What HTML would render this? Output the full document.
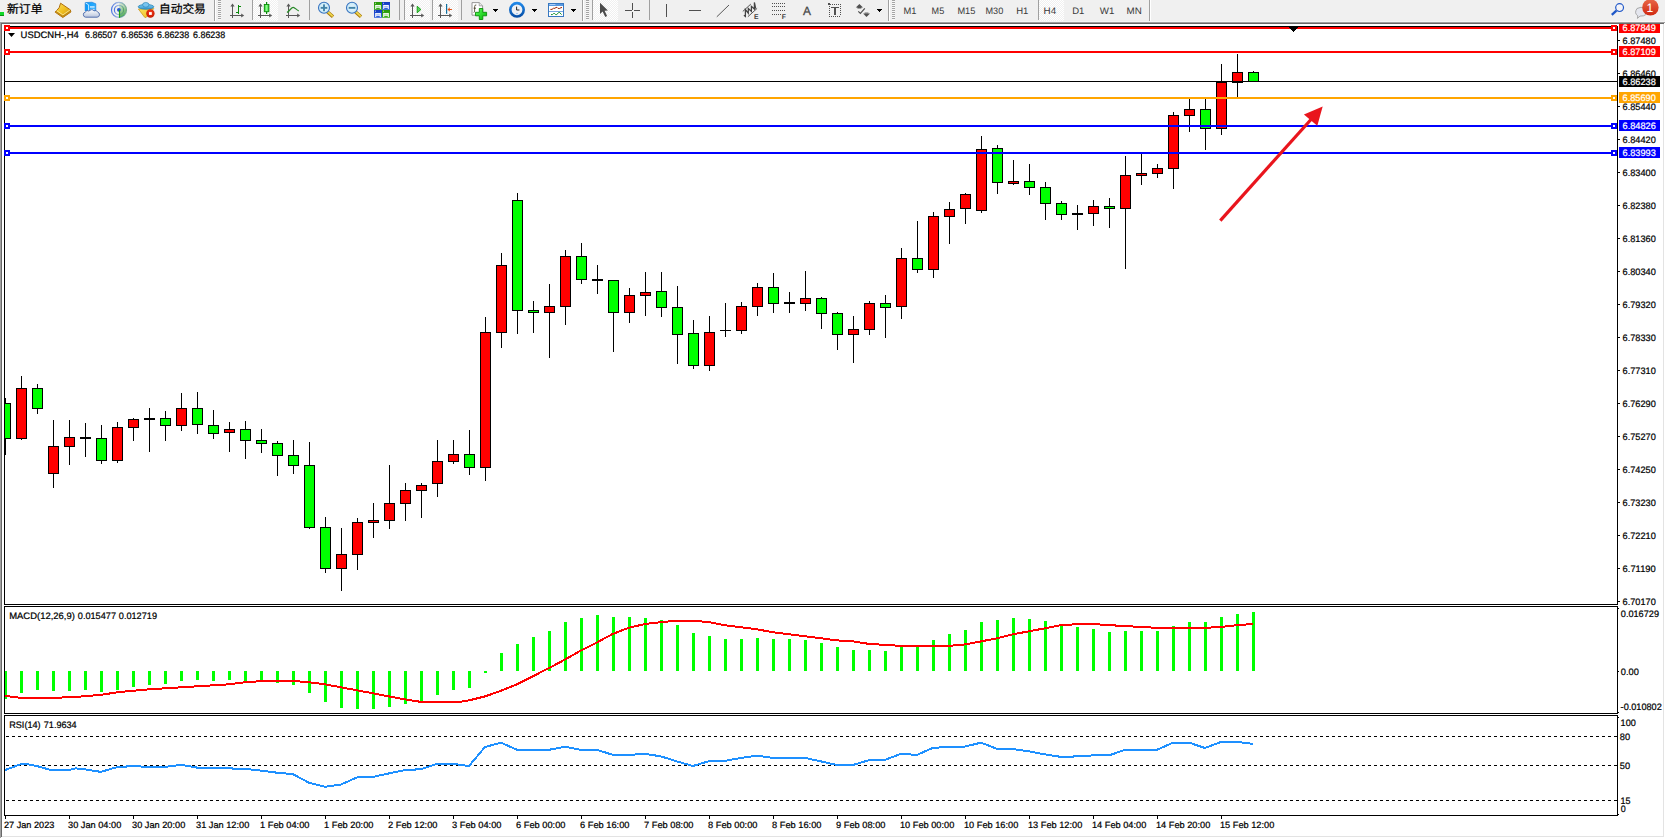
<!DOCTYPE html><html><head><meta charset="utf-8"><title>USDCNH H4</title>
<style>html,body{margin:0;padding:0;background:#f0f0f0;}body{width:1665px;height:838px;overflow:hidden;position:relative;font-family:"Liberation Sans","Noto Sans CJK SC",sans-serif;}svg{position:absolute;left:0;top:0;display:block}text{font-family:"Liberation Sans","Noto Sans CJK SC",sans-serif;text-rendering:geometricPrecision}</style></head><body>
<svg width="1665" height="838" viewBox="0 0 1665 838">
<g shape-rendering="crispEdges">
<rect x="0" y="0" width="1665" height="838" fill="#f0f0f0"/>
<rect x="0" y="21" width="1665" height="1" fill="#f7f7f7"/>
<rect x="0" y="22" width="1665" height="816" fill="#a0a0a0"/>
<rect x="1" y="23" width="1664" height="815" fill="#696969"/>
<rect x="2" y="24" width="1663" height="814" fill="#fff"/>
<rect x="1" y="837" width="1664" height="1" fill="#fff"/>
<rect x="1664" y="23" width="1" height="815" fill="#fff"/>
<rect x="2" y="836" width="1662" height="1" fill="#e3e3e3"/>
<rect x="1663" y="24" width="1" height="813" fill="#e3e3e3"/>
<rect x="4" y="26" width="1613" height="1" fill="#000"/>
<rect x="4" y="26" width="1" height="790" fill="#000"/>
<rect x="1617" y="26" width="1" height="790" fill="#000"/>
<rect x="4" y="604" width="1614" height="1" fill="#000"/>
<rect x="4" y="606" width="1614" height="1" fill="#000"/>
<rect x="4" y="713" width="1614" height="1" fill="#000"/>
<rect x="4" y="715" width="1614" height="1" fill="#000"/>
<rect x="4" y="815" width="1614" height="1" fill="#000"/>
<rect x="4" y="605" width="1614" height="1" fill="#fff"/>
<rect x="4" y="714" width="1614" height="1" fill="#fff"/>
</g>
<g shape-rendering="crispEdges">
<g id="candles">
<rect x="5" y="398" width="1" height="57" fill="#000"/>
<rect x="5" y="403" width="6" height="36" fill="#000"/>
<rect x="5" y="404" width="5" height="34" fill="#00ff00"/>
<rect x="21" y="376" width="1" height="64" fill="#000"/>
<rect x="16" y="388" width="11" height="51" fill="#000"/>
<rect x="17" y="389" width="9" height="49" fill="#ff0000"/>
<rect x="37" y="384" width="1" height="30" fill="#000"/>
<rect x="32" y="388" width="11" height="21" fill="#000"/>
<rect x="33" y="389" width="9" height="19" fill="#00ff00"/>
<rect x="53" y="420" width="1" height="68" fill="#000"/>
<rect x="48" y="446" width="11" height="28" fill="#000"/>
<rect x="49" y="447" width="9" height="26" fill="#ff0000"/>
<rect x="69" y="420" width="1" height="45" fill="#000"/>
<rect x="64" y="437" width="11" height="10" fill="#000"/>
<rect x="65" y="438" width="9" height="8" fill="#ff0000"/>
<rect x="85" y="423" width="1" height="34" fill="#000"/>
<rect x="80" y="437" width="11" height="2" fill="#000"/>
<rect x="101" y="425" width="1" height="39" fill="#000"/>
<rect x="96" y="438" width="11" height="23" fill="#000"/>
<rect x="97" y="439" width="9" height="21" fill="#00ff00"/>
<rect x="117" y="422" width="1" height="41" fill="#000"/>
<rect x="112" y="427" width="11" height="34" fill="#000"/>
<rect x="113" y="428" width="9" height="32" fill="#ff0000"/>
<rect x="133" y="418" width="1" height="23" fill="#000"/>
<rect x="128" y="419" width="11" height="9" fill="#000"/>
<rect x="129" y="420" width="9" height="7" fill="#ff0000"/>
<rect x="149" y="408" width="1" height="44" fill="#000"/>
<rect x="144" y="418" width="11" height="2" fill="#000"/>
<rect x="165" y="411" width="1" height="30" fill="#000"/>
<rect x="160" y="418" width="11" height="8" fill="#000"/>
<rect x="161" y="419" width="9" height="6" fill="#00ff00"/>
<rect x="181" y="393" width="1" height="38" fill="#000"/>
<rect x="176" y="408" width="11" height="18" fill="#000"/>
<rect x="177" y="409" width="9" height="16" fill="#ff0000"/>
<rect x="197" y="392" width="1" height="42" fill="#000"/>
<rect x="192" y="408" width="11" height="17" fill="#000"/>
<rect x="193" y="409" width="9" height="15" fill="#00ff00"/>
<rect x="213" y="410" width="1" height="29" fill="#000"/>
<rect x="208" y="425" width="11" height="9" fill="#000"/>
<rect x="209" y="426" width="9" height="7" fill="#00ff00"/>
<rect x="229" y="422" width="1" height="30" fill="#000"/>
<rect x="224" y="429" width="11" height="4" fill="#000"/>
<rect x="225" y="430" width="9" height="2" fill="#ff0000"/>
<rect x="245" y="421" width="1" height="38" fill="#000"/>
<rect x="240" y="429" width="11" height="12" fill="#000"/>
<rect x="241" y="430" width="9" height="10" fill="#00ff00"/>
<rect x="261" y="429" width="1" height="24" fill="#000"/>
<rect x="256" y="440" width="11" height="4" fill="#000"/>
<rect x="257" y="441" width="9" height="2" fill="#00ff00"/>
<rect x="277" y="441" width="1" height="35" fill="#000"/>
<rect x="272" y="443" width="11" height="13" fill="#000"/>
<rect x="273" y="444" width="9" height="11" fill="#00ff00"/>
<rect x="293" y="440" width="1" height="34" fill="#000"/>
<rect x="288" y="455" width="11" height="11" fill="#000"/>
<rect x="289" y="456" width="9" height="9" fill="#00ff00"/>
<rect x="309" y="442" width="1" height="87" fill="#000"/>
<rect x="304" y="465" width="11" height="63" fill="#000"/>
<rect x="305" y="466" width="9" height="61" fill="#00ff00"/>
<rect x="325" y="517" width="1" height="56" fill="#000"/>
<rect x="320" y="527" width="11" height="42" fill="#000"/>
<rect x="321" y="528" width="9" height="40" fill="#00ff00"/>
<rect x="341" y="528" width="1" height="63" fill="#000"/>
<rect x="336" y="554" width="11" height="15" fill="#000"/>
<rect x="337" y="555" width="9" height="13" fill="#ff0000"/>
<rect x="357" y="518" width="1" height="52" fill="#000"/>
<rect x="352" y="522" width="11" height="33" fill="#000"/>
<rect x="353" y="523" width="9" height="31" fill="#ff0000"/>
<rect x="373" y="503" width="1" height="35" fill="#000"/>
<rect x="368" y="520" width="11" height="3" fill="#000"/>
<rect x="369" y="521" width="9" height="1" fill="#ff0000"/>
<rect x="389" y="465" width="1" height="64" fill="#000"/>
<rect x="384" y="503" width="11" height="18" fill="#000"/>
<rect x="385" y="504" width="9" height="16" fill="#ff0000"/>
<rect x="405" y="483" width="1" height="38" fill="#000"/>
<rect x="400" y="490" width="11" height="14" fill="#000"/>
<rect x="401" y="491" width="9" height="12" fill="#ff0000"/>
<rect x="421" y="483" width="1" height="35" fill="#000"/>
<rect x="416" y="485" width="11" height="6" fill="#000"/>
<rect x="417" y="486" width="9" height="4" fill="#ff0000"/>
<rect x="437" y="440" width="1" height="57" fill="#000"/>
<rect x="432" y="461" width="11" height="23" fill="#000"/>
<rect x="433" y="462" width="9" height="21" fill="#ff0000"/>
<rect x="453" y="440" width="1" height="24" fill="#000"/>
<rect x="448" y="454" width="11" height="8" fill="#000"/>
<rect x="449" y="455" width="9" height="6" fill="#ff0000"/>
<rect x="469" y="430" width="1" height="45" fill="#000"/>
<rect x="464" y="454" width="11" height="14" fill="#000"/>
<rect x="465" y="455" width="9" height="12" fill="#00ff00"/>
<rect x="485" y="317" width="1" height="164" fill="#000"/>
<rect x="480" y="332" width="11" height="136" fill="#000"/>
<rect x="481" y="333" width="9" height="134" fill="#ff0000"/>
<rect x="501" y="253" width="1" height="95" fill="#000"/>
<rect x="496" y="265" width="11" height="68" fill="#000"/>
<rect x="497" y="266" width="9" height="66" fill="#ff0000"/>
<rect x="517" y="193" width="1" height="141" fill="#000"/>
<rect x="512" y="200" width="11" height="111" fill="#000"/>
<rect x="513" y="201" width="9" height="109" fill="#00ff00"/>
<rect x="533" y="301" width="1" height="32" fill="#000"/>
<rect x="528" y="310" width="11" height="3" fill="#000"/>
<rect x="529" y="311" width="9" height="1" fill="#00ff00"/>
<rect x="549" y="284" width="1" height="74" fill="#000"/>
<rect x="544" y="306" width="11" height="7" fill="#000"/>
<rect x="545" y="307" width="9" height="5" fill="#ff0000"/>
<rect x="565" y="250" width="1" height="75" fill="#000"/>
<rect x="560" y="256" width="11" height="51" fill="#000"/>
<rect x="561" y="257" width="9" height="49" fill="#ff0000"/>
<rect x="581" y="243" width="1" height="41" fill="#000"/>
<rect x="576" y="256" width="11" height="24" fill="#000"/>
<rect x="577" y="257" width="9" height="22" fill="#00ff00"/>
<rect x="597" y="265" width="1" height="29" fill="#000"/>
<rect x="592" y="279" width="11" height="2" fill="#000"/>
<rect x="613" y="280" width="1" height="72" fill="#000"/>
<rect x="608" y="280" width="11" height="33" fill="#000"/>
<rect x="609" y="281" width="9" height="31" fill="#00ff00"/>
<rect x="629" y="288" width="1" height="35" fill="#000"/>
<rect x="624" y="295" width="11" height="18" fill="#000"/>
<rect x="625" y="296" width="9" height="16" fill="#ff0000"/>
<rect x="645" y="272" width="1" height="44" fill="#000"/>
<rect x="640" y="292" width="11" height="4" fill="#000"/>
<rect x="641" y="293" width="9" height="2" fill="#ff0000"/>
<rect x="661" y="272" width="1" height="45" fill="#000"/>
<rect x="656" y="291" width="11" height="17" fill="#000"/>
<rect x="657" y="292" width="9" height="15" fill="#00ff00"/>
<rect x="677" y="286" width="1" height="78" fill="#000"/>
<rect x="672" y="307" width="11" height="28" fill="#000"/>
<rect x="673" y="308" width="9" height="26" fill="#00ff00"/>
<rect x="693" y="320" width="1" height="49" fill="#000"/>
<rect x="688" y="333" width="11" height="33" fill="#000"/>
<rect x="689" y="334" width="9" height="31" fill="#00ff00"/>
<rect x="709" y="316" width="1" height="55" fill="#000"/>
<rect x="704" y="332" width="11" height="34" fill="#000"/>
<rect x="705" y="333" width="9" height="32" fill="#ff0000"/>
<rect x="725" y="303" width="1" height="34" fill="#000"/>
<rect x="720" y="330" width="11" height="1" fill="#000"/>
<rect x="741" y="302" width="1" height="32" fill="#000"/>
<rect x="736" y="306" width="11" height="25" fill="#000"/>
<rect x="737" y="307" width="9" height="23" fill="#ff0000"/>
<rect x="757" y="283" width="1" height="33" fill="#000"/>
<rect x="752" y="287" width="11" height="20" fill="#000"/>
<rect x="753" y="288" width="9" height="18" fill="#ff0000"/>
<rect x="773" y="273" width="1" height="40" fill="#000"/>
<rect x="768" y="287" width="11" height="17" fill="#000"/>
<rect x="769" y="288" width="9" height="15" fill="#00ff00"/>
<rect x="789" y="292" width="1" height="21" fill="#000"/>
<rect x="784" y="302" width="11" height="2" fill="#000"/>
<rect x="805" y="271" width="1" height="40" fill="#000"/>
<rect x="800" y="298" width="11" height="6" fill="#000"/>
<rect x="801" y="299" width="9" height="4" fill="#ff0000"/>
<rect x="821" y="297" width="1" height="32" fill="#000"/>
<rect x="816" y="298" width="11" height="16" fill="#000"/>
<rect x="817" y="299" width="9" height="14" fill="#00ff00"/>
<rect x="837" y="312" width="1" height="38" fill="#000"/>
<rect x="832" y="313" width="11" height="22" fill="#000"/>
<rect x="833" y="314" width="9" height="20" fill="#00ff00"/>
<rect x="853" y="316" width="1" height="47" fill="#000"/>
<rect x="848" y="329" width="11" height="6" fill="#000"/>
<rect x="849" y="330" width="9" height="4" fill="#ff0000"/>
<rect x="869" y="301" width="1" height="34" fill="#000"/>
<rect x="864" y="303" width="11" height="27" fill="#000"/>
<rect x="865" y="304" width="9" height="25" fill="#ff0000"/>
<rect x="885" y="295" width="1" height="43" fill="#000"/>
<rect x="880" y="303" width="11" height="5" fill="#000"/>
<rect x="881" y="304" width="9" height="3" fill="#00ff00"/>
<rect x="901" y="248" width="1" height="71" fill="#000"/>
<rect x="896" y="258" width="11" height="49" fill="#000"/>
<rect x="897" y="259" width="9" height="47" fill="#ff0000"/>
<rect x="917" y="221" width="1" height="52" fill="#000"/>
<rect x="912" y="258" width="11" height="12" fill="#000"/>
<rect x="913" y="259" width="9" height="10" fill="#00ff00"/>
<rect x="933" y="212" width="1" height="66" fill="#000"/>
<rect x="928" y="216" width="11" height="54" fill="#000"/>
<rect x="929" y="217" width="9" height="52" fill="#ff0000"/>
<rect x="949" y="202" width="1" height="42" fill="#000"/>
<rect x="944" y="209" width="11" height="8" fill="#000"/>
<rect x="945" y="210" width="9" height="6" fill="#ff0000"/>
<rect x="965" y="193" width="1" height="31" fill="#000"/>
<rect x="960" y="194" width="11" height="15" fill="#000"/>
<rect x="961" y="195" width="9" height="13" fill="#ff0000"/>
<rect x="981" y="136" width="1" height="77" fill="#000"/>
<rect x="976" y="149" width="11" height="62" fill="#000"/>
<rect x="977" y="150" width="9" height="60" fill="#ff0000"/>
<rect x="997" y="145" width="1" height="49" fill="#000"/>
<rect x="992" y="148" width="11" height="35" fill="#000"/>
<rect x="993" y="149" width="9" height="33" fill="#00ff00"/>
<rect x="1013" y="160" width="1" height="25" fill="#000"/>
<rect x="1008" y="181" width="11" height="3" fill="#000"/>
<rect x="1009" y="182" width="9" height="1" fill="#ff0000"/>
<rect x="1029" y="164" width="1" height="31" fill="#000"/>
<rect x="1024" y="181" width="11" height="7" fill="#000"/>
<rect x="1025" y="182" width="9" height="5" fill="#00ff00"/>
<rect x="1045" y="182" width="1" height="38" fill="#000"/>
<rect x="1040" y="187" width="11" height="17" fill="#000"/>
<rect x="1041" y="188" width="9" height="15" fill="#00ff00"/>
<rect x="1061" y="201" width="1" height="19" fill="#000"/>
<rect x="1056" y="203" width="11" height="12" fill="#000"/>
<rect x="1057" y="204" width="9" height="10" fill="#00ff00"/>
<rect x="1077" y="205" width="1" height="25" fill="#000"/>
<rect x="1072" y="213" width="11" height="2" fill="#000"/>
<rect x="1093" y="200" width="1" height="26" fill="#000"/>
<rect x="1088" y="206" width="11" height="8" fill="#000"/>
<rect x="1089" y="207" width="9" height="6" fill="#ff0000"/>
<rect x="1109" y="198" width="1" height="30" fill="#000"/>
<rect x="1104" y="206" width="11" height="3" fill="#000"/>
<rect x="1105" y="207" width="9" height="1" fill="#00ff00"/>
<rect x="1125" y="156" width="1" height="113" fill="#000"/>
<rect x="1120" y="175" width="11" height="34" fill="#000"/>
<rect x="1121" y="176" width="9" height="32" fill="#ff0000"/>
<rect x="1141" y="154" width="1" height="31" fill="#000"/>
<rect x="1136" y="173" width="11" height="3" fill="#000"/>
<rect x="1137" y="174" width="9" height="1" fill="#ff0000"/>
<rect x="1157" y="164" width="1" height="14" fill="#000"/>
<rect x="1152" y="168" width="11" height="6" fill="#000"/>
<rect x="1153" y="169" width="9" height="4" fill="#ff0000"/>
<rect x="1173" y="112" width="1" height="77" fill="#000"/>
<rect x="1168" y="115" width="11" height="54" fill="#000"/>
<rect x="1169" y="116" width="9" height="52" fill="#ff0000"/>
<rect x="1189" y="99" width="1" height="33" fill="#000"/>
<rect x="1184" y="109" width="11" height="7" fill="#000"/>
<rect x="1185" y="110" width="9" height="5" fill="#ff0000"/>
<rect x="1205" y="99" width="1" height="51" fill="#000"/>
<rect x="1200" y="109" width="11" height="20" fill="#000"/>
<rect x="1201" y="110" width="9" height="18" fill="#00ff00"/>
<rect x="1221" y="64" width="1" height="71" fill="#000"/>
<rect x="1216" y="82" width="11" height="47" fill="#000"/>
<rect x="1217" y="83" width="9" height="45" fill="#ff0000"/>
<rect x="1237" y="54" width="1" height="44" fill="#000"/>
<rect x="1232" y="72" width="11" height="11" fill="#000"/>
<rect x="1233" y="73" width="9" height="9" fill="#ff0000"/>
<rect x="1253" y="71" width="1" height="11" fill="#000"/>
<rect x="1248" y="72" width="11" height="10" fill="#000"/>
<rect x="1249" y="73" width="9" height="8" fill="#00ff00"/>
</g>
<rect x="5" y="27" width="1612" height="2" fill="#ff0000"/>
<rect x="5" y="51" width="1612" height="2" fill="#ff0000"/>
<rect x="5" y="81" width="1612" height="1" fill="#000000"/>
<rect x="5" y="97" width="1612" height="2" fill="#ffa500"/>
<rect x="5" y="125" width="1612" height="2" fill="#0000ff"/>
<rect x="5" y="152" width="1612" height="2" fill="#0000ff"/>
<rect x="4" y="25" width="6" height="6" fill="#ff0000"/>
<rect x="6" y="27" width="2" height="2" fill="#fff"/>
<rect x="1611" y="25" width="6" height="6" fill="#ff0000"/>
<rect x="1613" y="27" width="2" height="2" fill="#fff"/>
<rect x="4" y="49" width="6" height="6" fill="#ff0000"/>
<rect x="6" y="51" width="2" height="2" fill="#fff"/>
<rect x="1611" y="49" width="6" height="6" fill="#ff0000"/>
<rect x="1613" y="51" width="2" height="2" fill="#fff"/>
<rect x="4" y="95" width="6" height="6" fill="#ffa500"/>
<rect x="6" y="97" width="2" height="2" fill="#fff"/>
<rect x="1611" y="95" width="6" height="6" fill="#ffa500"/>
<rect x="1613" y="97" width="2" height="2" fill="#fff"/>
<rect x="4" y="123" width="6" height="6" fill="#0000ff"/>
<rect x="6" y="125" width="2" height="2" fill="#fff"/>
<rect x="1611" y="123" width="6" height="6" fill="#0000ff"/>
<rect x="1613" y="125" width="2" height="2" fill="#fff"/>
<rect x="4" y="150" width="6" height="6" fill="#0000ff"/>
<rect x="6" y="152" width="2" height="2" fill="#fff"/>
<rect x="1611" y="150" width="6" height="6" fill="#0000ff"/>
<rect x="1613" y="152" width="2" height="2" fill="#fff"/>
<rect x="1289" y="27" width="9" height="1" fill="#000"/>
<rect x="1290" y="28" width="7" height="1" fill="#000"/>
<rect x="1291" y="29" width="5" height="1" fill="#000"/>
<rect x="1292" y="30" width="3" height="1" fill="#000"/>
<rect x="1293" y="31" width="1" height="1" fill="#000"/>
<g id="macd">
<rect x="5" y="671" width="2" height="28" fill="#00ff00"/>
<rect x="20" y="671" width="3" height="22" fill="#00ff00"/>
<rect x="36" y="671" width="3" height="19" fill="#00ff00"/>
<rect x="52" y="671" width="3" height="20" fill="#00ff00"/>
<rect x="68" y="671" width="3" height="20" fill="#00ff00"/>
<rect x="84" y="671" width="3" height="19" fill="#00ff00"/>
<rect x="100" y="671" width="3" height="21" fill="#00ff00"/>
<rect x="116" y="671" width="3" height="19" fill="#00ff00"/>
<rect x="132" y="671" width="3" height="16" fill="#00ff00"/>
<rect x="148" y="671" width="3" height="14" fill="#00ff00"/>
<rect x="164" y="671" width="3" height="13" fill="#00ff00"/>
<rect x="180" y="671" width="3" height="10" fill="#00ff00"/>
<rect x="196" y="671" width="3" height="9" fill="#00ff00"/>
<rect x="212" y="671" width="3" height="10" fill="#00ff00"/>
<rect x="228" y="671" width="3" height="9" fill="#00ff00"/>
<rect x="244" y="671" width="3" height="11" fill="#00ff00"/>
<rect x="260" y="671" width="3" height="11" fill="#00ff00"/>
<rect x="276" y="671" width="3" height="12" fill="#00ff00"/>
<rect x="292" y="671" width="3" height="14" fill="#00ff00"/>
<rect x="308" y="671" width="3" height="22" fill="#00ff00"/>
<rect x="324" y="671" width="3" height="31" fill="#00ff00"/>
<rect x="340" y="671" width="3" height="37" fill="#00ff00"/>
<rect x="356" y="671" width="3" height="38" fill="#00ff00"/>
<rect x="372" y="671" width="3" height="38" fill="#00ff00"/>
<rect x="388" y="671" width="3" height="36" fill="#00ff00"/>
<rect x="404" y="671" width="3" height="33" fill="#00ff00"/>
<rect x="420" y="671" width="3" height="30" fill="#00ff00"/>
<rect x="436" y="671" width="3" height="24" fill="#00ff00"/>
<rect x="452" y="671" width="3" height="19" fill="#00ff00"/>
<rect x="468" y="671" width="3" height="17" fill="#00ff00"/>
<rect x="484" y="671" width="3" height="2" fill="#00ff00"/>
<rect x="500" y="653" width="3" height="18" fill="#00ff00"/>
<rect x="516" y="644" width="3" height="27" fill="#00ff00"/>
<rect x="532" y="637" width="3" height="34" fill="#00ff00"/>
<rect x="548" y="631" width="3" height="40" fill="#00ff00"/>
<rect x="564" y="622" width="3" height="49" fill="#00ff00"/>
<rect x="580" y="618" width="3" height="53" fill="#00ff00"/>
<rect x="596" y="615" width="3" height="56" fill="#00ff00"/>
<rect x="612" y="617" width="3" height="54" fill="#00ff00"/>
<rect x="628" y="617" width="3" height="54" fill="#00ff00"/>
<rect x="644" y="618" width="3" height="53" fill="#00ff00"/>
<rect x="660" y="620" width="3" height="51" fill="#00ff00"/>
<rect x="676" y="625" width="3" height="46" fill="#00ff00"/>
<rect x="692" y="633" width="3" height="38" fill="#00ff00"/>
<rect x="708" y="636" width="3" height="35" fill="#00ff00"/>
<rect x="724" y="639" width="3" height="32" fill="#00ff00"/>
<rect x="740" y="639" width="3" height="32" fill="#00ff00"/>
<rect x="756" y="638" width="3" height="33" fill="#00ff00"/>
<rect x="772" y="639" width="3" height="32" fill="#00ff00"/>
<rect x="788" y="639" width="3" height="32" fill="#00ff00"/>
<rect x="804" y="640" width="3" height="31" fill="#00ff00"/>
<rect x="820" y="643" width="3" height="28" fill="#00ff00"/>
<rect x="836" y="647" width="3" height="24" fill="#00ff00"/>
<rect x="852" y="650" width="3" height="21" fill="#00ff00"/>
<rect x="868" y="650" width="3" height="21" fill="#00ff00"/>
<rect x="884" y="651" width="3" height="20" fill="#00ff00"/>
<rect x="900" y="647" width="3" height="24" fill="#00ff00"/>
<rect x="916" y="647" width="3" height="24" fill="#00ff00"/>
<rect x="932" y="640" width="3" height="31" fill="#00ff00"/>
<rect x="948" y="634" width="3" height="37" fill="#00ff00"/>
<rect x="964" y="630" width="3" height="41" fill="#00ff00"/>
<rect x="980" y="622" width="3" height="49" fill="#00ff00"/>
<rect x="996" y="620" width="3" height="51" fill="#00ff00"/>
<rect x="1012" y="618" width="3" height="53" fill="#00ff00"/>
<rect x="1028" y="619" width="3" height="52" fill="#00ff00"/>
<rect x="1044" y="621" width="3" height="50" fill="#00ff00"/>
<rect x="1060" y="624" width="3" height="47" fill="#00ff00"/>
<rect x="1076" y="627" width="3" height="44" fill="#00ff00"/>
<rect x="1092" y="629" width="3" height="42" fill="#00ff00"/>
<rect x="1108" y="632" width="3" height="39" fill="#00ff00"/>
<rect x="1124" y="631" width="3" height="40" fill="#00ff00"/>
<rect x="1140" y="631" width="3" height="40" fill="#00ff00"/>
<rect x="1156" y="631" width="3" height="40" fill="#00ff00"/>
<rect x="1172" y="626" width="3" height="45" fill="#00ff00"/>
<rect x="1188" y="622" width="3" height="49" fill="#00ff00"/>
<rect x="1204" y="622" width="3" height="49" fill="#00ff00"/>
<rect x="1220" y="617" width="3" height="54" fill="#00ff00"/>
<rect x="1236" y="614" width="3" height="57" fill="#00ff00"/>
<rect x="1252" y="612" width="3" height="59" fill="#00ff00"/>
</g>
<polyline points="5,695.9 21,697.9 53,697.9 75.7,696.9 101,694.9 117,692.3 133,690.8 149,689.3 165,688.3 181,687.3 197,686.3 213,685.3 229,684.3 245,682.2 261,681.2 277,680.7 293,681 309,682.2 325,684.3 341,687.3 357,690.3 373,693.3 389,696.4 405,699.4 421,701.9 460,701.9 469,700.4 485,696.4 501,690.8 517,684.3 533,676.2 549,668.1 565,659.5 581,650.5 597,642.4 613,633.8 629,627.7 645,624 661,622.2 677,620.7 693,620.7 709,622.2 725,625.2 741,627.2 757,629.3 773,632.3 789,634.3 805,636.3 821,638.3 837,640.4 853,641.4 869,643.9 885,644.9 901,645.9 917,645.9 933,645.9 949,645.9 965,644.4 981,641.4 997,638.3 1013,634.3 1029,631.3 1045,628.3 1061,625.2 1077,624.2 1093,624 1109,625.1 1125,626.1 1141,626.9 1157,627.9 1173,627.9 1189,627.9 1205,627.9 1221,626.9 1237,625.2 1253,624" fill="none" stroke="#ff0000" stroke-width="2" stroke-linejoin="round"/>
<line x1="6" y1="736.5" x2="1617" y2="736.5" stroke="#000" stroke-width="1" stroke-dasharray="3 3"/>
<line x1="6" y1="765.5" x2="1617" y2="765.5" stroke="#000" stroke-width="1" stroke-dasharray="3 3"/>
<line x1="6" y1="800.5" x2="1617" y2="800.5" stroke="#000" stroke-width="1" stroke-dasharray="3 3"/>
</g>
<polyline points="5,770.1 21,764.1 27,764.1 37,766.1 50.5,769.9 69,769.9 75.7,768.4 85,769.4 101,771.9 117,767.1 133,766.1 149,766.9 165,766.9 181,764.8 197,767.6 213,767.6 229,768.4 245,768.9 261,770.6 277,772.7 293,774.2 309,782.7 325,786.8 341,784.5 357,777.4 373,776.9 389,773.4 405,770.1 421,769.2 437,763.9 453,763.9 469,766 485,747 501,742.7 517,749.8 533,749.8 549,749.8 565,746.8 581,749.8 597,749.8 613,754.9 629,754.9 645,753.8 661,756.4 677,761.4 693,766 709,761.2 725,760.9 741,757.9 757,755.6 773,757.9 789,757.9 805,757.9 821,761.4 837,765 853,765 869,760.2 885,759.9 901,753.8 917,754.9 933,747.8 949,747 965,746.5 981,742.7 997,748.8 1013,749.1 1029,751.3 1045,754.4 1061,756.9 1077,756.4 1093,755.4 1109,755.4 1125,749.8 1141,749.8 1157,749.8 1173,742.6 1189,742.6 1205,748 1221,741.9 1237,741.9 1253,743.9" fill="none" stroke="#1e90ff" stroke-width="2" stroke-linejoin="round" shape-rendering="crispEdges"/>
<g shape-rendering="geometricPrecision">
<line x1="1220.3" y1="220.6" x2="1311" y2="119.5" stroke="#e9151d" stroke-width="3.2"/>
<polygon points="1322.7,106.5 1303.9,114.5 1317.3,125.8" fill="#e9151d"/>
</g>
<g shape-rendering="crispEdges">
<rect x="1618" y="40" width="2" height="1" fill="#000"/>
<rect x="1618" y="73" width="2" height="1" fill="#000"/>
<rect x="1618" y="106" width="2" height="1" fill="#000"/>
<rect x="1618" y="139" width="2" height="1" fill="#000"/>
<rect x="1618" y="172" width="2" height="1" fill="#000"/>
<rect x="1618" y="205" width="2" height="1" fill="#000"/>
<rect x="1618" y="238" width="2" height="1" fill="#000"/>
<rect x="1618" y="271" width="2" height="1" fill="#000"/>
<rect x="1618" y="304" width="2" height="1" fill="#000"/>
<rect x="1618" y="337" width="2" height="1" fill="#000"/>
<rect x="1618" y="370" width="2" height="1" fill="#000"/>
<rect x="1618" y="403" width="2" height="1" fill="#000"/>
<rect x="1618" y="436" width="2" height="1" fill="#000"/>
<rect x="1618" y="469" width="2" height="1" fill="#000"/>
<rect x="1618" y="502" width="2" height="1" fill="#000"/>
<rect x="1618" y="535" width="2" height="1" fill="#000"/>
<rect x="1618" y="568" width="2" height="1" fill="#000"/>
<rect x="1618" y="601" width="2" height="1" fill="#000"/>
<rect x="1618" y="608" width="1" height="1" fill="#000"/>
<rect x="1618" y="671" width="1" height="1" fill="#000"/>
<rect x="1618" y="712" width="1" height="1" fill="#000"/>
<rect x="1618" y="717" width="1" height="1" fill="#000"/>
<rect x="1618" y="814" width="1" height="1" fill="#000"/>
<rect x="5" y="816" width="1" height="3" fill="#000"/>
<rect x="69" y="816" width="1" height="3" fill="#000"/>
<rect x="133" y="816" width="1" height="3" fill="#000"/>
<rect x="197" y="816" width="1" height="3" fill="#000"/>
<rect x="261" y="816" width="1" height="3" fill="#000"/>
<rect x="325" y="816" width="1" height="3" fill="#000"/>
<rect x="389" y="816" width="1" height="3" fill="#000"/>
<rect x="453" y="816" width="1" height="3" fill="#000"/>
<rect x="517" y="816" width="1" height="3" fill="#000"/>
<rect x="581" y="816" width="1" height="3" fill="#000"/>
<rect x="645" y="816" width="1" height="3" fill="#000"/>
<rect x="709" y="816" width="1" height="3" fill="#000"/>
<rect x="773" y="816" width="1" height="3" fill="#000"/>
<rect x="837" y="816" width="1" height="3" fill="#000"/>
<rect x="901" y="816" width="1" height="3" fill="#000"/>
<rect x="965" y="816" width="1" height="3" fill="#000"/>
<rect x="1029" y="816" width="1" height="3" fill="#000"/>
<rect x="1093" y="816" width="1" height="3" fill="#000"/>
<rect x="1157" y="816" width="1" height="3" fill="#000"/>
<rect x="1221" y="816" width="1" height="3" fill="#000"/>
</g>
<g font-size="9.35" fill="#000" stroke="#000" stroke-width="0.22">
<text x="1622.6" y="43.8" textLength="33.2" lengthAdjust="spacingAndGlyphs">6.87480</text>
<text x="1622.6" y="76.8" textLength="33.2" lengthAdjust="spacingAndGlyphs">6.86460</text>
<text x="1622.6" y="109.8" textLength="33.2" lengthAdjust="spacingAndGlyphs">6.85440</text>
<text x="1622.6" y="142.8" textLength="33.2" lengthAdjust="spacingAndGlyphs">6.84420</text>
<text x="1622.6" y="175.8" textLength="33.2" lengthAdjust="spacingAndGlyphs">6.83400</text>
<text x="1622.6" y="208.8" textLength="33.2" lengthAdjust="spacingAndGlyphs">6.82380</text>
<text x="1622.6" y="241.8" textLength="33.2" lengthAdjust="spacingAndGlyphs">6.81360</text>
<text x="1622.6" y="274.8" textLength="33.2" lengthAdjust="spacingAndGlyphs">6.80340</text>
<text x="1622.6" y="307.8" textLength="33.2" lengthAdjust="spacingAndGlyphs">6.79320</text>
<text x="1622.6" y="340.8" textLength="33.2" lengthAdjust="spacingAndGlyphs">6.78330</text>
<text x="1622.6" y="373.8" textLength="33.2" lengthAdjust="spacingAndGlyphs">6.77310</text>
<text x="1622.6" y="406.8" textLength="33.2" lengthAdjust="spacingAndGlyphs">6.76290</text>
<text x="1622.6" y="439.8" textLength="33.2" lengthAdjust="spacingAndGlyphs">6.75270</text>
<text x="1622.6" y="472.8" textLength="33.2" lengthAdjust="spacingAndGlyphs">6.74250</text>
<text x="1622.6" y="505.8" textLength="33.2" lengthAdjust="spacingAndGlyphs">6.73230</text>
<text x="1622.6" y="538.8" textLength="33.2" lengthAdjust="spacingAndGlyphs">6.72210</text>
<text x="1622.6" y="571.8" textLength="33.2" lengthAdjust="spacingAndGlyphs">6.71190</text>
<text x="1622.6" y="604.8" textLength="33.2" lengthAdjust="spacingAndGlyphs">6.70170</text>
</g>
<g shape-rendering="crispEdges">
<rect x="1619" y="24" width="41" height="9" fill="#ff0000"/>
<rect x="1619" y="46" width="41" height="11" fill="#ff0000"/>
<rect x="1619" y="76" width="41" height="11" fill="#000000"/>
<rect x="1619" y="92" width="41" height="11" fill="#ffa500"/>
<rect x="1619" y="120" width="41" height="11" fill="#0000ff"/>
<rect x="1619" y="147" width="41" height="11" fill="#0000ff"/>
</g>
<g font-size="9.35" fill="#fff" stroke="#fff" stroke-width="0.22">
<text x="1622.6" y="30.8" textLength="33.2" lengthAdjust="spacingAndGlyphs">6.87849</text>
<text x="1622.6" y="54.8" textLength="33.2" lengthAdjust="spacingAndGlyphs">6.87109</text>
<text x="1622.6" y="84.8" textLength="33.2" lengthAdjust="spacingAndGlyphs">6.86238</text>
<text x="1622.6" y="100.8" textLength="33.2" lengthAdjust="spacingAndGlyphs">6.85690</text>
<text x="1622.6" y="128.8" textLength="33.2" lengthAdjust="spacingAndGlyphs">6.84826</text>
<text x="1622.6" y="155.8" textLength="33.2" lengthAdjust="spacingAndGlyphs">6.83993</text>
</g>
<g font-size="9.35" fill="#000" stroke="#000" stroke-width="0.22">
<text x="1620.8" y="616.8" textLength="38.2" lengthAdjust="spacingAndGlyphs">0.016729</text>
<text x="1620.8" y="674.9" textLength="18" lengthAdjust="spacingAndGlyphs">0.00</text>
<text x="1620.6" y="709.9" textLength="41.2" lengthAdjust="spacingAndGlyphs">-0.010802</text>
<text x="1620.6" y="725.8" textLength="15.2" lengthAdjust="spacingAndGlyphs">100</text>
<text x="1619.8" y="739.5" textLength="10.3" lengthAdjust="spacingAndGlyphs">80</text>
<text x="1619.8" y="768.6" textLength="10.3" lengthAdjust="spacingAndGlyphs">50</text>
<text x="1620.6" y="803.6" textLength="10" lengthAdjust="spacingAndGlyphs">15</text>
<text x="1620.8" y="811.6" textLength="5" lengthAdjust="spacingAndGlyphs">0</text>
<text x="20.6" y="37.8" textLength="58.2" lengthAdjust="spacingAndGlyphs">USDCNH-,H4</text>
<text x="85.0" y="37.8" textLength="32.2" lengthAdjust="spacingAndGlyphs">6.86507</text>
<text x="121.0" y="37.8" textLength="32.2" lengthAdjust="spacingAndGlyphs">6.86536</text>
<text x="157.0" y="37.8" textLength="32.2" lengthAdjust="spacingAndGlyphs">6.86238</text>
<text x="193.0" y="37.8" textLength="32.2" lengthAdjust="spacingAndGlyphs">6.86238</text>
<text x="9.2" y="618.8" textLength="65.6" lengthAdjust="spacingAndGlyphs">MACD(12,26,9)</text>
<text x="77.8" y="618.8" textLength="38.2" lengthAdjust="spacingAndGlyphs">0.015477</text>
<text x="118.8" y="618.8" textLength="38.2" lengthAdjust="spacingAndGlyphs">0.012719</text>
<text x="9.2" y="727.8" textLength="31.4" lengthAdjust="spacingAndGlyphs">RSI(14)</text>
<text x="43.8" y="727.8" textLength="32.8" lengthAdjust="spacingAndGlyphs">71.9634</text>
<g font-size="9.12">
<text x="4" y="827.8" textLength="50.3" lengthAdjust="spacingAndGlyphs">27 Jan 2023</text>
<text x="68" y="827.8" textLength="53.3" lengthAdjust="spacingAndGlyphs">30 Jan 04:00</text>
<text x="132" y="827.8" textLength="53.3" lengthAdjust="spacingAndGlyphs">30 Jan 20:00</text>
<text x="196" y="827.8" textLength="53.3" lengthAdjust="spacingAndGlyphs">31 Jan 12:00</text>
<text x="260" y="827.8" textLength="49.5" lengthAdjust="spacingAndGlyphs">1 Feb 04:00</text>
<text x="324" y="827.8" textLength="49.5" lengthAdjust="spacingAndGlyphs">1 Feb 20:00</text>
<text x="388" y="827.8" textLength="49.5" lengthAdjust="spacingAndGlyphs">2 Feb 12:00</text>
<text x="452" y="827.8" textLength="49.5" lengthAdjust="spacingAndGlyphs">3 Feb 04:00</text>
<text x="516" y="827.8" textLength="49.5" lengthAdjust="spacingAndGlyphs">6 Feb 00:00</text>
<text x="580" y="827.8" textLength="49.5" lengthAdjust="spacingAndGlyphs">6 Feb 16:00</text>
<text x="644" y="827.8" textLength="49.5" lengthAdjust="spacingAndGlyphs">7 Feb 08:00</text>
<text x="708" y="827.8" textLength="49.5" lengthAdjust="spacingAndGlyphs">8 Feb 00:00</text>
<text x="772" y="827.8" textLength="49.5" lengthAdjust="spacingAndGlyphs">8 Feb 16:00</text>
<text x="836" y="827.8" textLength="49.5" lengthAdjust="spacingAndGlyphs">9 Feb 08:00</text>
<text x="900" y="827.8" textLength="54.3" lengthAdjust="spacingAndGlyphs">10 Feb 00:00</text>
<text x="964" y="827.8" textLength="54.3" lengthAdjust="spacingAndGlyphs">10 Feb 16:00</text>
<text x="1028" y="827.8" textLength="54.3" lengthAdjust="spacingAndGlyphs">13 Feb 12:00</text>
<text x="1092" y="827.8" textLength="54.3" lengthAdjust="spacingAndGlyphs">14 Feb 04:00</text>
<text x="1156" y="827.8" textLength="54.3" lengthAdjust="spacingAndGlyphs">14 Feb 20:00</text>
<text x="1220" y="827.8" textLength="54.3" lengthAdjust="spacingAndGlyphs">15 Feb 12:00</text>
</g>
</g>
<polygon points="8,33 15,33 11.5,37" fill="#000"/>
<defs>
<pattern id="chk" width="2" height="2" patternUnits="userSpaceOnUse"><rect width="2" height="2" fill="#f0f0f0"/><rect width="1" height="1" fill="#fff"/><rect x="1" y="1" width="1" height="1" fill="#fff"/></pattern>
<linearGradient id="gold" x1="0" y1="0" x2="1" y2="1"><stop offset="0" stop-color="#fbe060"/><stop offset="0.5" stop-color="#f0c020"/><stop offset="1" stop-color="#c88a10"/></linearGradient>
<linearGradient id="cloud" x1="0" y1="0" x2="0" y2="1"><stop offset="0" stop-color="#ffffff"/><stop offset="1" stop-color="#b8c4dc"/></linearGradient>
<linearGradient id="bluebox" x1="0" y1="0" x2="1" y2="0"><stop offset="0" stop-color="#0898f8"/><stop offset="1" stop-color="#30b0ff"/></linearGradient>
<linearGradient id="hat" x1="0" y1="0" x2="0" y2="1"><stop offset="0" stop-color="#80c8f0"/><stop offset="1" stop-color="#3898d0"/></linearGradient>
<linearGradient id="face" x1="0" y1="0" x2="1" y2="1"><stop offset="0" stop-color="#f8e060"/><stop offset="1" stop-color="#f0c020"/></linearGradient>
<radialGradient id="redb" cx="0.5" cy="0.4" r="0.6"><stop offset="0" stop-color="#ff4020"/><stop offset="1" stop-color="#c01800"/></radialGradient>
<linearGradient id="badge" x1="0" y1="0" x2="0" y2="1"><stop offset="0" stop-color="#e86848"/><stop offset="1" stop-color="#d02810"/></linearGradient>
<linearGradient id="cndl" x1="0" y1="0" x2="1" y2="0"><stop offset="0" stop-color="#20d020"/><stop offset="0.5" stop-color="#90ff90"/><stop offset="1" stop-color="#20d020"/></linearGradient>
<radialGradient id="lens" cx="0.5" cy="0.5" r="0.6"><stop offset="0" stop-color="#e8f8ff"/><stop offset="1" stop-color="#c0e4f4"/></radialGradient>
<linearGradient id="ring" x1="0" y1="0" x2="0" y2="1"><stop offset="0" stop-color="#2088e8"/><stop offset="1" stop-color="#0850a8"/></linearGradient>
<linearGradient id="plus" x1="0" y1="0" x2="1" y2="1"><stop offset="0" stop-color="#60ff60"/><stop offset="1" stop-color="#00b800"/></linearGradient>
<linearGradient id="tgreen" x1="0" y1="0" x2="0" y2="1"><stop offset="0" stop-color="#289808"/><stop offset="1" stop-color="#40b020"/></linearGradient>
<linearGradient id="tblue" x1="0" y1="0" x2="0" y2="1"><stop offset="0" stop-color="#1038c0"/><stop offset="1" stop-color="#3868e0"/></linearGradient>
<radialGradient id="sig" cx="0.5" cy="0.5" r="0.5"><stop offset="0" stop-color="#20a020"/><stop offset="1" stop-color="#80c880" stop-opacity="0.7"/></radialGradient>
<linearGradient id="sigf" x1="0" y1="0" x2="0.3" y2="1"><stop offset="0" stop-color="#a0d0a0" stop-opacity="0.25"/><stop offset="1" stop-color="#30a030" stop-opacity="0.85"/></linearGradient>
<linearGradient id="sigr" x1="0" y1="0" x2="1" y2="0"><stop offset="0" stop-color="#3060e0" stop-opacity="0.85"/><stop offset="0.5" stop-color="#5080d0" stop-opacity="0.45"/><stop offset="1" stop-color="#409060" stop-opacity="0.7"/></linearGradient>
</defs>
<g shape-rendering="crispEdges">
<rect x="253" y="0" width="25" height="21" fill="url(#chk)"/>
<rect x="405" y="0" width="25" height="21" fill="url(#chk)"/>
<rect x="433" y="0" width="25" height="21" fill="url(#chk)"/>
<rect x="593" y="0" width="25" height="21" fill="url(#chk)"/>
<rect x="1039" y="0" width="25" height="21" fill="url(#chk)"/>
<rect x="252" y="0" width="1" height="20" fill="#a0a0a0"/>
<rect x="309" y="0" width="1" height="20" fill="#a0a0a0"/>
<rect x="399" y="0" width="1" height="20" fill="#a0a0a0"/>
<rect x="404" y="0" width="1" height="20" fill="#a0a0a0"/>
<rect x="432" y="0" width="1" height="20" fill="#a0a0a0"/>
<rect x="461" y="0" width="1" height="20" fill="#a0a0a0"/>
<rect x="592" y="0" width="1" height="20" fill="#a0a0a0"/>
<rect x="649" y="0" width="1" height="20" fill="#a0a0a0"/>
<rect x="1038" y="0" width="1" height="20" fill="#a0a0a0"/>
<rect x="214" y="0" width="1" height="21" fill="#a0a0a0"/><rect x="215" y="0" width="1" height="21" fill="#fff"/>
<rect x="582" y="0" width="1" height="21" fill="#a0a0a0"/><rect x="583" y="0" width="1" height="21" fill="#fff"/>
<rect x="888" y="0" width="1" height="21" fill="#a0a0a0"/><rect x="889" y="0" width="1" height="21" fill="#fff"/>
<rect x="1149" y="0" width="1" height="21" fill="#a0a0a0"/><rect x="1150" y="0" width="1" height="21" fill="#fff"/>
<rect x="218" y="0" width="3" height="1" fill="#a4a4a4"/>
<rect x="218" y="1" width="3" height="1" fill="#f8f8f8"/>
<rect x="218" y="2" width="3" height="1" fill="#a4a4a4"/>
<rect x="218" y="3" width="3" height="1" fill="#f8f8f8"/>
<rect x="218" y="4" width="3" height="1" fill="#a4a4a4"/>
<rect x="218" y="5" width="3" height="1" fill="#f8f8f8"/>
<rect x="218" y="6" width="3" height="1" fill="#a4a4a4"/>
<rect x="218" y="7" width="3" height="1" fill="#f8f8f8"/>
<rect x="218" y="8" width="3" height="1" fill="#a4a4a4"/>
<rect x="218" y="9" width="3" height="1" fill="#f8f8f8"/>
<rect x="218" y="10" width="3" height="1" fill="#a4a4a4"/>
<rect x="218" y="11" width="3" height="1" fill="#f8f8f8"/>
<rect x="218" y="12" width="3" height="1" fill="#a4a4a4"/>
<rect x="218" y="13" width="3" height="1" fill="#f8f8f8"/>
<rect x="218" y="14" width="3" height="1" fill="#a4a4a4"/>
<rect x="218" y="15" width="3" height="1" fill="#f8f8f8"/>
<rect x="218" y="16" width="3" height="1" fill="#a4a4a4"/>
<rect x="218" y="17" width="3" height="1" fill="#f8f8f8"/>
<rect x="218" y="18" width="3" height="1" fill="#a4a4a4"/>
<rect x="218" y="19" width="3" height="1" fill="#f8f8f8"/>
<rect x="586" y="0" width="3" height="1" fill="#a4a4a4"/>
<rect x="586" y="1" width="3" height="1" fill="#f8f8f8"/>
<rect x="586" y="2" width="3" height="1" fill="#a4a4a4"/>
<rect x="586" y="3" width="3" height="1" fill="#f8f8f8"/>
<rect x="586" y="4" width="3" height="1" fill="#a4a4a4"/>
<rect x="586" y="5" width="3" height="1" fill="#f8f8f8"/>
<rect x="586" y="6" width="3" height="1" fill="#a4a4a4"/>
<rect x="586" y="7" width="3" height="1" fill="#f8f8f8"/>
<rect x="586" y="8" width="3" height="1" fill="#a4a4a4"/>
<rect x="586" y="9" width="3" height="1" fill="#f8f8f8"/>
<rect x="586" y="10" width="3" height="1" fill="#a4a4a4"/>
<rect x="586" y="11" width="3" height="1" fill="#f8f8f8"/>
<rect x="586" y="12" width="3" height="1" fill="#a4a4a4"/>
<rect x="586" y="13" width="3" height="1" fill="#f8f8f8"/>
<rect x="586" y="14" width="3" height="1" fill="#a4a4a4"/>
<rect x="586" y="15" width="3" height="1" fill="#f8f8f8"/>
<rect x="586" y="16" width="3" height="1" fill="#a4a4a4"/>
<rect x="586" y="17" width="3" height="1" fill="#f8f8f8"/>
<rect x="586" y="18" width="3" height="1" fill="#a4a4a4"/>
<rect x="586" y="19" width="3" height="1" fill="#f8f8f8"/>
<rect x="892" y="0" width="3" height="1" fill="#a4a4a4"/>
<rect x="892" y="1" width="3" height="1" fill="#f8f8f8"/>
<rect x="892" y="2" width="3" height="1" fill="#a4a4a4"/>
<rect x="892" y="3" width="3" height="1" fill="#f8f8f8"/>
<rect x="892" y="4" width="3" height="1" fill="#a4a4a4"/>
<rect x="892" y="5" width="3" height="1" fill="#f8f8f8"/>
<rect x="892" y="6" width="3" height="1" fill="#a4a4a4"/>
<rect x="892" y="7" width="3" height="1" fill="#f8f8f8"/>
<rect x="892" y="8" width="3" height="1" fill="#a4a4a4"/>
<rect x="892" y="9" width="3" height="1" fill="#f8f8f8"/>
<rect x="892" y="10" width="3" height="1" fill="#a4a4a4"/>
<rect x="892" y="11" width="3" height="1" fill="#f8f8f8"/>
<rect x="892" y="12" width="3" height="1" fill="#a4a4a4"/>
<rect x="892" y="13" width="3" height="1" fill="#f8f8f8"/>
<rect x="892" y="14" width="3" height="1" fill="#a4a4a4"/>
<rect x="892" y="15" width="3" height="1" fill="#f8f8f8"/>
<rect x="892" y="16" width="3" height="1" fill="#a4a4a4"/>
<rect x="892" y="17" width="3" height="1" fill="#f8f8f8"/>
<rect x="892" y="18" width="3" height="1" fill="#a4a4a4"/>
<rect x="892" y="19" width="3" height="1" fill="#f8f8f8"/>
<rect x="493" y="9" width="5" height="1" fill="#000"/><rect x="494" y="10" width="3" height="1" fill="#000"/><rect x="495" y="11" width="1" height="1" fill="#000"/>
<rect x="532" y="9" width="5" height="1" fill="#000"/><rect x="533" y="10" width="3" height="1" fill="#000"/><rect x="534" y="11" width="1" height="1" fill="#000"/>
<rect x="571" y="9" width="5" height="1" fill="#000"/><rect x="572" y="10" width="3" height="1" fill="#000"/><rect x="573" y="11" width="1" height="1" fill="#000"/>
<rect x="877" y="9" width="5" height="1" fill="#000"/><rect x="878" y="10" width="3" height="1" fill="#000"/><rect x="879" y="11" width="1" height="1" fill="#000"/>
<rect x="0" y="12" width="4" height="3" fill="#10d828"/><rect x="0" y="15" width="4" height="1" fill="#089010"/>
</g>
<text x="7" y="12.9" font-size="11.7" fill="#000" stroke="#000" stroke-width="0.25" textLength="35.6" lengthAdjust="spacingAndGlyphs">新订单</text>
<text x="159" y="12.9" font-size="11.7" fill="#000" stroke="#000" stroke-width="0.25" textLength="46.8" lengthAdjust="spacingAndGlyphs">自动交易</text>
<polygon points="60.6,3.2 70.3,9.8 70.9,12 62.8,17.5 55.1,12.1 59.1,7.8" fill="url(#gold)" stroke="#b07010" stroke-width="1" stroke-linejoin="round"/>
<polygon points="55.4,12 62.8,17.2 70.7,11.9 70.3,10.4 62.9,15.5 56.3,10.9" fill="#c08a14"/>
<polyline points="56.6,10.6 62.9,14.9 69.9,10" fill="none" stroke="#fff0a0" stroke-width="0.8"/>
<polygon points="85.2,2.6 92,2.2 95.8,3.8 95.8,11 85.2,11" fill="url(#bluebox)" stroke="#1078d8" stroke-width="0.6"/>
<polyline points="85.6,3 88.6,4.8 88.6,11" fill="none" stroke="#d8f0ff" stroke-width="0.9"/>
<rect x="90" y="6.3" width="4.6" height="1.3" fill="#e8f6ff"/><rect x="90.5" y="8.8" width="4" height="1.2" fill="#d0ecff"/>
<path d="M85.6,17.2 a2.6,2.6 0 0 1 -0.3,-5.1 a2.7,2.7 0 0 1 3.9,-1 a3,3 0 0 1 4.9,-0.3 a2.6,2.6 0 0 1 3.5,1.3 a2.6,2.6 0 0 1 -0.5,5.1 z" fill="url(#cloud)" stroke="#4866a8" stroke-width="0.9"/>
<path d="M119.2,2.2 A7.8,7.8 0 0 1 119.2,17.7 Z" fill="url(#sigf)"/>
<circle cx="119" cy="9.9" r="7.5" fill="none" stroke="url(#sigr)" stroke-width="1.2"/>
<circle cx="119" cy="9.9" r="4.6" fill="none" stroke="url(#sigr)" stroke-width="1.2"/>
<circle cx="118.9" cy="9.8" r="1.9" fill="#2858d0"/>
<rect x="118.9" y="10" width="1.2" height="7.8" fill="#18a018"/>
<polygon points="138.4,9 153.8,8.6 150,13 146,17.6 144.6,17.2" fill="url(#face)" stroke="#c89010" stroke-width="0.7"/>
<ellipse cx="146" cy="6.8" rx="7.8" ry="2.4" fill="url(#hat)" stroke="#2080b0" stroke-width="0.7"/>
<ellipse cx="145.8" cy="4.8" rx="3.2" ry="2.4" fill="#78c4f0" stroke="#2080b0" stroke-width="0.6"/>
<circle cx="150.4" cy="13.5" r="4.2" fill="url(#redb)"/>
<rect x="149" y="12.1" width="2.8" height="2.8" fill="#fff"/>
<g fill="#585858" shape-rendering="crispEdges"><rect x="232" y="5" width="1" height="13"/><rect x="230" y="15" width="13" height="1"/></g><polygon points="232.5,3.6 234.6,6.6 230.4,6.6" fill="#585858"/><polygon points="244.2,15.5 241.2,13.4 241.2,17.6" fill="#585858"/>
<g fill="#0a8a0a" shape-rendering="crispEdges"><rect x="238" y="5" width="1.4" height="9"/><rect x="239" y="6" width="2" height="1"/><rect x="236" y="12" width="2" height="1"/></g>
<g fill="#585858" shape-rendering="crispEdges"><rect x="260" y="5" width="1" height="13"/><rect x="258" y="15" width="13" height="1"/></g><polygon points="260.5,3.6 262.6,6.6 258.4,6.6" fill="#585858"/><polygon points="272.2,15.5 269.2,13.4 269.2,17.6" fill="#585858"/>
<rect x="266" y="2" width="1.2" height="12" fill="#0a8a0a"/><rect x="264.3" y="4.5" width="4.6" height="7.2" fill="url(#cndl)" stroke="#0a8a0a" stroke-width="0.9"/>
<g fill="#585858" shape-rendering="crispEdges"><rect x="288" y="5" width="1" height="13"/><rect x="286" y="15" width="13" height="1"/></g><polygon points="288.5,3.6 290.6,6.6 286.4,6.6" fill="#585858"/><polygon points="300.2,15.5 297.2,13.4 297.2,17.6" fill="#585858"/>
<path d="M287,12.6 C290,10.5 291.5,7.2 293.2,7.3 C295,7.4 296.5,10.2 298.8,10.8" fill="none" stroke="#2a8a2a" stroke-width="1.2"/>
<line x1="327.6" y1="11.9" x2="333" y2="16.8" stroke="#a87808" stroke-width="3.4" stroke-linecap="butt"/><line x1="327.9" y1="11.8" x2="332.8" y2="16.3" stroke="#f0d850" stroke-width="1.8"/><circle cx="324" cy="7.8" r="5.5" fill="url(#lens)" stroke="#3874c0" stroke-width="1.1"/><rect x="320.7" y="6.9" width="6.6" height="1.9" fill="#4484a8"/><rect x="323.05" y="4.4" width="1.9" height="6.8" fill="#4484a8"/>
<line x1="355.6" y1="11.9" x2="361" y2="16.8" stroke="#a87808" stroke-width="3.4" stroke-linecap="butt"/><line x1="355.9" y1="11.8" x2="360.8" y2="16.3" stroke="#f0d850" stroke-width="1.8"/><circle cx="352" cy="7.8" r="5.5" fill="url(#lens)" stroke="#3874c0" stroke-width="1.1"/><rect x="348.7" y="6.9" width="6.6" height="1.9" fill="#4484a8"/>
<rect x="374" y="2" width="8" height="7.9" fill="url(#tgreen)"/><rect x="375" y="2.8" width="1" height="0.9" fill="#fff" fill-opacity="0.8"/><path d="M375.2,5 h5.6 v4 h-1 v-1.2 h-3.6 v1.2 h-1 z" fill="#fff"/><rect x="376.2" y="5.9" width="3.6" height="0.8" fill="#40b020" fill-opacity="0.6"/>
<rect x="382" y="2" width="8" height="7.9" fill="url(#tblue)"/><rect x="383" y="2.8" width="1" height="0.9" fill="#fff" fill-opacity="0.8"/><path d="M383.2,5 h5.6 v4 h-1 v-1.2 h-3.6 v1.2 h-1 z" fill="#fff"/><rect x="384.2" y="5.9" width="3.6" height="0.8" fill="#3060e0" fill-opacity="0.6"/>
<rect x="374" y="9.9" width="8" height="7.9" fill="url(#tblue)"/><rect x="375" y="10.700000000000001" width="1" height="0.9" fill="#fff" fill-opacity="0.8"/><path d="M375.2,12.9 h5.6 v4 h-1 v-1.2 h-3.6 v1.2 h-1 z" fill="#fff"/><rect x="376.2" y="13.8" width="3.6" height="0.8" fill="#3060e0" fill-opacity="0.6"/>
<rect x="382" y="9.9" width="8" height="7.9" fill="url(#tgreen)"/><rect x="383" y="10.700000000000001" width="1" height="0.9" fill="#fff" fill-opacity="0.8"/><path d="M383.2,12.9 h5.6 v4 h-1 v-1.2 h-3.6 v1.2 h-1 z" fill="#fff"/><rect x="384.2" y="13.8" width="3.6" height="0.8" fill="#40b020" fill-opacity="0.6"/>
<g fill="#585858" shape-rendering="crispEdges"><rect x="412" y="5" width="1" height="13"/><rect x="410" y="15" width="13" height="1"/></g><polygon points="412.5,3.6 414.6,6.6 410.4,6.6" fill="#585858"/><polygon points="424.2,15.5 421.2,13.4 421.2,17.6" fill="#585858"/>
<polygon points="417.2,6.2 417.2,12.8 420.9,9.5" fill="#58d858" stroke="#109810" stroke-width="0.9" stroke-linejoin="round"/>
<g fill="#585858" shape-rendering="crispEdges"><rect x="440" y="5" width="1" height="13"/><rect x="438" y="15" width="13" height="1"/></g><polygon points="440.5,3.6 442.6,6.6 438.4,6.6" fill="#585858"/><polygon points="452.2,15.5 449.2,13.4 449.2,17.6" fill="#585858"/>
<rect x="446" y="4" width="1.2" height="9.8" fill="#1070a0"/>
<path d="M447.4,9.5 L450,7.3 L449.6,9 L451.9,9 L451.9,10 L449.6,10 L450,11.7 Z" fill="#e05010"/>
<path d="M472,2.6 h7.2 l3.4,3.2 v9.4 h-10.6 z" fill="#fff" stroke="#8c8c8c" stroke-width="0.9"/>
<path d="M479.2,2.6 v3.2 h3.4" fill="#e8e8e8" stroke="#8c8c8c" stroke-width="0.7"/>
<path d="M476.3,5 q-1.6,-0.4 -1.7,1.6 v4.6 q0,1.2 -1,1.2 M473.6,8.2 h2.4" fill="none" stroke="#403820" stroke-width="0.8"/>
<path d="M479.3,8.5 h3.5 v3.8 h3.8 v3.5 h-3.8 v3.7 h-3.5 v-3.7 h-3.8 v-3.5 h3.8 z" fill="url(#plus)" stroke="#089008" stroke-width="0.9"/>
<circle cx="517" cy="9.8" r="6.7" fill="#eef1f5" stroke="url(#ring)" stroke-width="2.6"/>
<path d="M516.6,6.6 V10 H519.4" fill="none" stroke="#282828" stroke-width="1"/>
<circle cx="517" cy="13.6" r="0.7" fill="#60a0f0"/>
<rect x="548.5" y="3.5" width="15" height="13" fill="#fff" stroke="#3878c0" stroke-width="1"/>
<rect x="549" y="4" width="14" height="2" fill="#5898e0"/><rect x="549.4" y="4.2" width="6" height="0.8" fill="#c0dcff"/>
<rect x="549" y="11" width="14" height="1" fill="#78a8e0"/>
<polyline points="550.4,9.4 552,9.4 553.4,8.3 555,8.3 556,7.4 557,7.4 558,8.4 559.8,8.4 561,7.6 562,7.6" fill="none" stroke="#a02808" stroke-width="1"/>
<polyline points="551,14.6 552.4,14.6 553.6,13.5 554.6,13.5 555.6,14.6 556.8,14.6 558.6,12.5 559.6,12.5 561,14 561.6,14.6" fill="none" stroke="#10902a" stroke-width="1"/>
<polygon points="600,2.8 600,13.9 602.6,11.4 605.3,16.9 607.1,16.1 604.6,10.8 607.9,10.6" fill="#4c4c4c"/>
<g fill="#505050" shape-rendering="crispEdges"><rect x="632" y="3" width="1.4" height="6.5"/><rect x="632" y="11.5" width="1.4" height="6.5"/><rect x="625" y="10" width="6.6" height="1.2"/><rect x="633.8" y="10" width="6.4" height="1.2"/></g>
<g fill="#505050" shape-rendering="crispEdges"><rect x="666" y="4" width="1.4" height="13"/><rect x="689" y="10" width="12" height="1.2"/></g>
<line x1="716.8" y1="16.8" x2="729" y2="5" stroke="#585858" stroke-width="1"/>
<g stroke="#444" fill="none"><line x1="742.8" y1="11.4" x2="750.8" y2="4.1" stroke-width="0.9"/><line x1="747.9" y1="16.7" x2="757.1" y2="8.4" stroke-width="0.9"/><polyline points="743.9,15.2 745.4,16.4 745.4,9.6 748.3,13.2 748.3,8.5 751.4,11.4 751.4,6.3 754.4,9 754.4,2.4 755.7,8.7" stroke-width="1.25" stroke-linejoin="miter"/></g>
<text x="753.9" y="18.9" font-size="6.8" font-weight="bold" fill="#404040">E</text>
<g fill="#505050" shape-rendering="crispEdges">
<rect x="772" y="3" width="1" height="1"/>
<rect x="774" y="3" width="1" height="1"/>
<rect x="776" y="3" width="1" height="1"/>
<rect x="778" y="3" width="1" height="1"/>
<rect x="780" y="3" width="1" height="1"/>
<rect x="782" y="3" width="1" height="1"/>
<rect x="784" y="3" width="1" height="1"/>
<rect x="772" y="6" width="1" height="1"/>
<rect x="774" y="6" width="1" height="1"/>
<rect x="776" y="6" width="1" height="1"/>
<rect x="778" y="6" width="1" height="1"/>
<rect x="780" y="6" width="1" height="1"/>
<rect x="782" y="6" width="1" height="1"/>
<rect x="784" y="6" width="1" height="1"/>
<rect x="772" y="10" width="1" height="1"/>
<rect x="774" y="10" width="1" height="1"/>
<rect x="776" y="10" width="1" height="1"/>
<rect x="778" y="10" width="1" height="1"/>
<rect x="780" y="10" width="1" height="1"/>
<rect x="782" y="10" width="1" height="1"/>
<rect x="784" y="10" width="1" height="1"/>
<rect x="772" y="14" width="1" height="1"/>
<rect x="774" y="14" width="1" height="1"/>
<rect x="776" y="14" width="1" height="1"/>
<rect x="778" y="14" width="1" height="1"/>
<rect x="780" y="14" width="1" height="1"/>
</g>
<text x="781.8" y="18.9" font-size="6.8" font-weight="bold" fill="#404040">F</text>
<text x="802.9" y="15" font-size="11.9" fill="#484848" stroke="#484848" stroke-width="0.3">A</text>
<g fill="#505050" shape-rendering="crispEdges">
<rect x="830" y="4" width="1" height="1"/><rect x="829" y="16" width="1" height="1"/>
<rect x="832" y="4" width="1" height="1"/><rect x="831" y="16" width="1" height="1"/>
<rect x="834" y="4" width="1" height="1"/><rect x="833" y="16" width="1" height="1"/>
<rect x="836" y="4" width="1" height="1"/><rect x="835" y="16" width="1" height="1"/>
<rect x="838" y="4" width="1" height="1"/><rect x="837" y="16" width="1" height="1"/>
<rect x="840" y="4" width="1" height="1"/><rect x="839" y="16" width="1" height="1"/>
<rect x="829" y="6" width="1" height="1"/><rect x="840" y="4" width="1" height="1"/>
<rect x="829" y="8" width="1" height="1"/><rect x="840" y="6" width="1" height="1"/>
<rect x="829" y="10" width="1" height="1"/><rect x="840" y="8" width="1" height="1"/>
<rect x="829" y="12" width="1" height="1"/><rect x="840" y="10" width="1" height="1"/>
<rect x="829" y="14" width="1" height="1"/><rect x="840" y="12" width="1" height="1"/>
<rect x="829" y="16" width="1" height="1"/><rect x="840" y="14" width="1" height="1"/>
<rect x="828" y="3" width="2" height="2"/>
<rect x="831" y="7" width="8" height="1.3"/><rect x="834.2" y="7" width="1.6" height="8"/>
</g>
<g fill="#505050"><polygon points="859.4,4 863,7.5 861.4,7.5 861.4,8.4 857.4,8.4 857.4,7.5 855.8,7.5"/><polygon points="863.1,13.4 870,13.4 866.5,16.9"/><polygon points="864.6,12.6 868.4,12.6 868.4,13.5 864.6,13.5"/></g>
<polyline points="858.3,11.4 860.4,13.4 864.8,8.4" fill="none" stroke="#505050" stroke-width="1.2"/>
<g font-size="9.35" fill="#3a3a3a">
<text x="903.4" y="13.6" textLength="13" lengthAdjust="spacingAndGlyphs">M1</text>
<text x="931.6" y="13.6" textLength="12.6" lengthAdjust="spacingAndGlyphs">M5</text>
<text x="957.4" y="13.6" textLength="18" lengthAdjust="spacingAndGlyphs">M15</text>
<text x="985.5" y="13.6" textLength="17.8" lengthAdjust="spacingAndGlyphs">M30</text>
<text x="1016.2" y="13.6" textLength="12.2" lengthAdjust="spacingAndGlyphs">H1</text>
<text x="1043.6" y="13.6" textLength="12.6" lengthAdjust="spacingAndGlyphs">H4</text>
<text x="1072.2" y="13.6" textLength="12.2" lengthAdjust="spacingAndGlyphs">D1</text>
<text x="1099.8" y="13.6" textLength="14.6" lengthAdjust="spacingAndGlyphs">W1</text>
<text x="1126.6" y="13.6" textLength="15.2" lengthAdjust="spacingAndGlyphs">MN</text>
</g>
<line x1="1616.4" y1="10.7" x2="1611.8" y2="14.9" stroke="#2058c8" stroke-width="2.3"/>
<circle cx="1619.6" cy="7.6" r="3.9" fill="#f4f4f8" stroke="#2058c8" stroke-width="1.2"/>
<path d="M1637,8.5 q4,-2.5 8,0 q3,3 1,6 q-2,1.8 -6,1.6 l-2.6,2.3 l0.4,-2.6 q-4,-2.5 -0.8,-7.3 z" fill="#e4e6ee" stroke="#a0a0a0" stroke-width="0.9"/>
<circle cx="1650.4" cy="7.4" r="8.2" fill="url(#badge)"/>
<text x="1646.4" y="12" font-size="12.2" fill="#fff">1</text>
</svg></body></html>
